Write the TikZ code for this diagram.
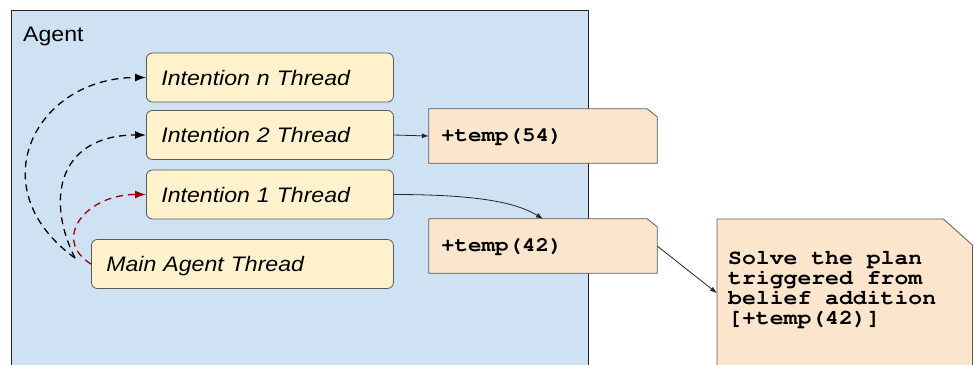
\documentclass[tikz,border=0pt]{standalone}
\usepackage[T1]{fontenc}
\usepackage{fontspec}
\usepackage{graphicx}
\usetikzlibrary{arrows.meta}

\newfontfamily\labelfont[FakeStretch=1.1]{Liberation Sans}
\newcommand\codefont{\fontencoding{T1}\fontfamily{pcr}\fontseries{b}\fontshape{n}\selectfont}
\newcommand\widen[1]{\scalebox{1.1}[1]{#1}}

\definecolor{agentblue}{HTML}{CFE2F3}
\definecolor{threadfill}{HTML}{FFF2CC}
\definecolor{notefill}{HTML}{FCE5CD}
\definecolor{edgegray}{HTML}{595959}
\definecolor{spawnred}{HTML}{990000}

\pgfdeclarelayer{container}
\pgfdeclarelayer{paper}
\pgfsetlayers{container,paper,main}

\tikzset{
  agentbox/.style={draw=black!85, line width=1.1pt, fill=agentblue, inner sep=0pt},
  threadbox/.style={draw=edgegray, line width=0.8pt, fill=threadfill, rounded corners=6pt,
    minimum height=49pt, inner xsep=15pt, inner ysep=0pt, align=left,
    text height=15pt, text depth=0pt,
    font=\labelfont\itshape\fontsize{21}{24}\selectfont},
  notebox/.style={minimum height=54pt, text width=204pt, inner xsep=12pt, inner ysep=0pt,
    align=left, font=\fontsize{20.5}{22}\codefont},
  paperedge/.style={draw=edgegray, line width=0.8pt, fill=notefill, line join=miter},
  spawn/.style={line width=1.3pt, dash pattern=on 7pt off 5pt,
    -{Latex[length=11pt,width=8pt]}},
  link/.style={line width=0.8pt, black!85, -{Latex[length=7pt,width=5pt]}}
}
% outline of a note sheet with a cut top-right corner: #1 node, #2 cut width, #3 cut height
\newcommand\notesheet[3]{%
  \begin{pgfonlayer}{paper}
    \path[paperedge] (#1.south west) -- (#1.north west) -- ([xshift=-#2]#1.north east)
      -- ([yshift=-#3]#1.north east) -- (#1.south east) -- cycle;
  \end{pgfonlayer}}

\begin{document}
\begin{tikzpicture}[x=1pt,y=-1pt]
  \path[use as bounding box] (0,0) rectangle (974,364);
  \clip (0,0) rectangle (974,364);

  % agent container
  \begin{pgfonlayer}{container}
    \node[agentbox, anchor=north west, minimum width=577pt, minimum height=400pt] (agent) at (11,10) {};
  \end{pgfonlayer}
  \node[anchor=base west, inner sep=0pt, font=\labelfont\fontsize{21}{24}\selectfont] (agentlabel) at (23,41) {Agent};

  % threads
  \node[threadbox, anchor=west, text width=217pt] (intn) at (146,77.5) {Intention n Thread};
  \node[threadbox, anchor=west, text width=217pt] (int2) at (146,135) {Intention 2 Thread};
  \node[threadbox, anchor=west, text width=217pt] (int1) at (146,194.5) {Intention 1 Thread};
  \node[threadbox, anchor=west, text width=272pt] (main) at (91,264) {Main Agent Thread};

  % belief notes
  \node[notebox] (n54) at (543,136) {\widen{+temp(54)}};
  \notesheet{n54}{10pt}{8pt}
  \node[notebox] (n42) at (543,246) {\widen{+temp(42)}};
  \notesheet{n42}{10pt}{8pt}
  \node[anchor=north west, inner sep=0pt, minimum width=255pt, minimum height=148pt] (plan) at (717,219) {};
  \notesheet{plan}{29pt}{26pt}
  \node[anchor=north west, inner sep=0pt] (plantext) at (728,250)
    {\fontsize{21}{20}\codefont\widen{\begin{tabular}{@{}l@{}}Solve the plan\\triggered from\\belief addition\\{[}+temp(42)]\end{tabular}}};

  % thread spawning
  \coordinate (fork) at ([xshift=-16pt,yshift=6pt]main.west);
  \draw[spawn] (fork) .. controls +(-97,-70) and +(-110,0) .. (intn.west);
  \draw[spawn] (fork) .. controls +(-31,-62) and +(-85,0) .. (int2.west);
  \draw[spawn, spawnred] (main.west) .. controls +(-40,-25) and +(-60,0) .. (int1.west);

  % belief additions
  \draw[link] (int2.east) -- (n54.west);
  \draw[link] (int1.east) .. controls +(90,0) and +(-25,-15) .. (n42.north);
  \draw[link] (n42.east) -- (plan.west);
\end{tikzpicture}
\end{document}
